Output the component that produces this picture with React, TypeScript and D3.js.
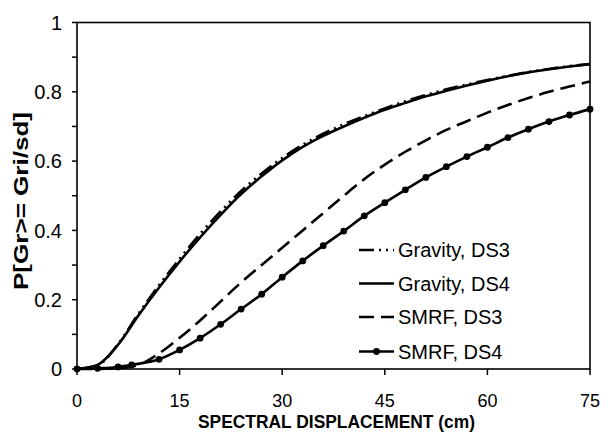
import React from "react";
import * as d3 from "d3";

const gravityX = [0, 3, 6, 9, 12, 15, 18, 21, 24, 27, 30, 33, 36, 39, 42, 45, 48, 51, 54, 57, 60, 63, 66, 69, 72, 75];
const gravityDS3 = [0, 0.01, 0.072, 0.16, 0.242, 0.318, 0.39, 0.455, 0.514, 0.564, 0.609, 0.647, 0.679, 0.706, 0.73, 0.752, 0.773, 0.791, 0.807, 0.821, 0.834, 0.846, 0.857, 0.866, 0.874, 0.88];
const gravityDS4 = [0, 0.012, 0.07, 0.155, 0.235, 0.31, 0.38, 0.445, 0.505, 0.556, 0.602, 0.641, 0.673, 0.7, 0.725, 0.748, 0.768, 0.787, 0.803, 0.818, 0.832, 0.845, 0.856, 0.865, 0.873, 0.88];
const smrfX3 = [0, 3, 6, 9, 12, 15, 18, 21, 24, 27, 30, 33, 36, 39, 42, 45, 48, 51, 54, 57, 60, 63, 66, 69, 72, 75];
const smrfDS3 = [0, 0, 0.002, 0.012, 0.045, 0.09, 0.14, 0.195, 0.25, 0.3, 0.35, 0.4, 0.45, 0.5, 0.548, 0.59, 0.627, 0.66, 0.69, 0.715, 0.74, 0.762, 0.782, 0.8, 0.815, 0.83];
const smrfX4 = [0, 3, 6, 8, 12, 15, 18, 21, 24, 27, 30, 33, 36, 39, 42, 45, 48, 51, 54, 57, 60, 63, 66, 69, 72, 75];
const smrfDS4 = [0, 0.002, 0.006, 0.012, 0.028, 0.055, 0.089, 0.129, 0.173, 0.216, 0.265, 0.312, 0.356, 0.398, 0.442, 0.48, 0.517, 0.553, 0.584, 0.613, 0.64, 0.668, 0.692, 0.714, 0.733, 0.75];

const xTicks = [0, 15, 30, 45, 60, 75];
const yTicks = [0, 0.2, 0.4, 0.6, 0.8, 1];
const yMinorTicks = [0.1, 0.3, 0.5, 0.7, 0.9];
const legendLabels = ["Gravity, DS3", "Gravity, DS4", "SMRF, DS3", "SMRF, DS4"];

const FONT = "'Liberation Sans', Arial, sans-serif";

export default function App() {
  const W = 613, H = 433;
  const x = d3.scaleLinear().domain([0, 75]).range([77, 590]);
  const y = d3.scaleLinear().domain([0, 1]).range([369, 22.5]);

  const line = d3
    .line<[number, number]>()
    .x((d) => x(d[0]))
    .y((d) => y(d[1]))
    .curve(d3.curveMonotoneX);

  const zip = (xs: number[], ys: number[]) => xs.map((v, i) => [v, ys[i]] as [number, number]);

  const series = [
    { data: zip(gravityX, gravityDS3), dash: "15,5,2,5,2,5", markers: false },
    { data: zip(gravityX, gravityDS4), dash: "", markers: false },
    { data: zip(smrfX3, smrfDS3), dash: "15,7", markers: false },
    { data: zip(smrfX4, smrfDS4), dash: "", markers: true },
  ];

  const legX0 = 359, legX1 = 394, legTextX = 398;
  const legY = [250, 283.5, 317, 351.5];

  return (
    <svg width={W} height={H} style={{ position: "absolute", left: 0, top: 0, background: "#fff" }}>
      <rect x={0} y={0} width={W} height={H} fill="#fff" />
      <rect x={x(0)} y={y(1)} width={x(75) - x(0)} height={y(0) - y(1)} fill="none" stroke="#000" strokeWidth={1.6} />
      {yTicks.map((t) => (
        <g key={"yt" + t}>
          <line x1={x(0) - 5} x2={x(0)} y1={y(t)} y2={y(t)} stroke="#000" strokeWidth={1.5} />
          <text x={62} y={y(t)} dy="0.36em" textAnchor="end" fontFamily={FONT} fontSize={20}>
            {String(t)}
          </text>
        </g>
      ))}
      {yMinorTicks.map((t) => (
        <line key={"ym" + t} x1={x(0) - 5} x2={x(0)} y1={y(t)} y2={y(t)} stroke="#000" strokeWidth={1.5} />
      ))}
      {xTicks.map((t) => (
        <g key={"xt" + t}>
          <line x1={x(t)} x2={x(t)} y1={y(0)} y2={y(0) + 6} stroke="#000" strokeWidth={1.5} />
          <text x={x(t)} y={407} textAnchor="middle" fontFamily={FONT} fontSize={18}>
            {t}
          </text>
        </g>
      ))}
      <text x={336.5} y={428} textAnchor="middle" fontFamily={FONT} fontSize={18} fontWeight="bold" textLength={277} lengthAdjust="spacingAndGlyphs">
        SPECTRAL DISPLACEMENT (cm)
      </text>
      <text
        transform={`translate(28,201) rotate(-90)`}
        textAnchor="middle"
        fontFamily={FONT}
        fontSize={20}
        fontWeight="bold"
        textLength={178}
        lengthAdjust="spacingAndGlyphs"
      >
        P[Gr&gt;= Gri/sd]
      </text>
      {series.map((s, i) => (
        <g key={"s" + i}>
          <path d={line(s.data) || ""} fill="none" stroke="#000" strokeWidth={2.6} strokeDasharray={s.dash || undefined} />
          {s.markers &&
            s.data.map((d, j) => <circle key={j} cx={x(d[0])} cy={y(d[1])} r={3.4} fill="#000" />)}
        </g>
      ))}
      {legendLabels.map((lab, i) => (
        <g key={"lg" + i}>
          <line
            x1={legX0}
            x2={legX1}
            y1={legY[i]}
            y2={legY[i]}
            stroke="#000"
            strokeWidth={2.6}
            strokeDasharray={series[i].dash || undefined}
          />
          {series[i].markers && <circle cx={(legX0 + legX1) / 2} cy={legY[i]} r={3.4} fill="#000" />}
          <text x={legTextX} y={legY[i]} dy="0.36em" fontFamily={FONT} fontSize={20}>
            {lab}
          </text>
        </g>
      ))}
    </svg>
  );
}
